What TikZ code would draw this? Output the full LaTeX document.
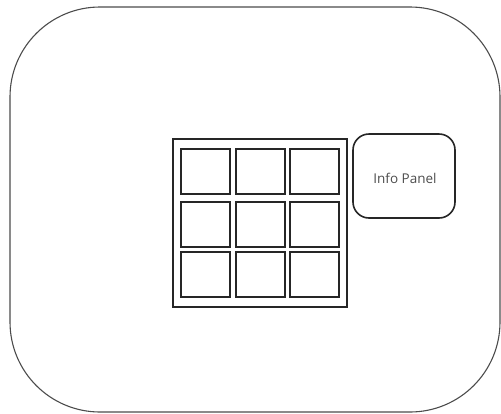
\documentclass[tikz,border=0pt]{standalone}
\usepackage{fontspec}
\setmainfont{Open Sans}
\begin{document}
\begin{tikzpicture}[x=1pt,y=-1pt,
  outerbox/.style={draw=black!70,line width=1.1pt,rounded corners=90pt},
  gridframe/.style={draw=black!85,line width=1.8pt},
  cell/.style={draw=black!85,line width=1.9pt},
  panel/.style={draw=black!85,line width=1.6pt,rounded corners=16pt},
  lbl/.style={text=black!70,font=\fontsize{13.5}{16}\selectfont}]
\useasboundingbox (0,0) rectangle (501,413);
\draw[outerbox] (10,7) rectangle (500,412);
\draw[gridframe] (173,139) rectangle (347,307);
\foreach \x/\c in {181/1,236/2,290/3}{
  \foreach \y/\r in {149/1,202/2,252/3}{
    \draw[cell] (\x,\y) rectangle ++(49,45);
  }
}
\draw[panel] (353,134) rectangle (455,218);
\node[lbl] (info) at (405,178) {Info Panel};
\end{tikzpicture}
\end{document}
